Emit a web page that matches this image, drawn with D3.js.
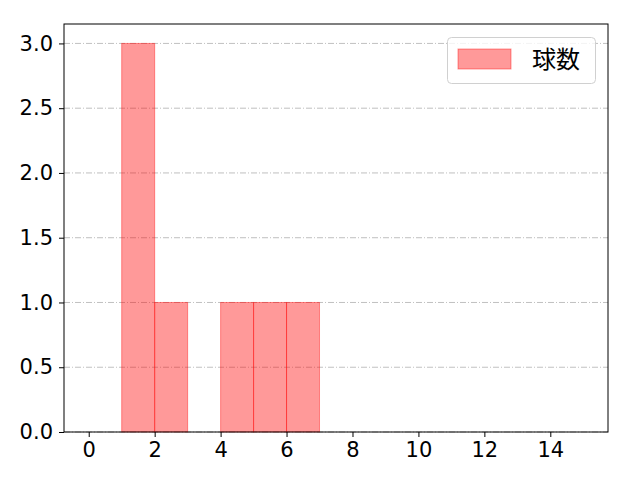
<!DOCTYPE html>
<html>
<head>
<meta charset="utf-8">
<script src="https://cdn.jsdelivr.net/npm/d3@7"></script>
<style>
  body { margin: 0; background: #fff; }
  text { font-family: "Noto Sans CJK JP", "Noto Sans", sans-serif; }
</style>
</head>
<body>
<svg id="chart" width="640" height="480"></svg>
<script>
// histogram bins (left edges, width 1) and counts
const binStarts = [0, 1, 2, 3, 4, 5, 6, 7, 8, 9, 10, 11, 12, 13, 14];
const counts = [0, 3, 1, 0, 1, 1, 1, 0, 0, 0, 0, 0, 0, 0, 0];
const xTicks = [0, 2, 4, 6, 8, 10, 12, 14];
const yTicks = [0, 0.5, 1.0, 1.5, 2.0, 2.5, 3.0];
const seriesName = "球数";

const plotLeft = 64, plotRight = 608, plotTop = 24, plotBottom = 432;
const svg = d3.select("#chart");

const x = d3.scaleLinear().domain([-0.75, 15.75]).range([plotLeft, plotRight]);
const y = d3.scaleLinear().domain([0, 3.15]).range([plotBottom, plotTop]);

// grid
svg.append("g")
  .selectAll("line")
  .data(yTicks)
  .enter()
  .append("line")
  .attr("x1", plotLeft)
  .attr("x2", plotRight)
  .attr("y1", (d) => y(d))
  .attr("y2", (d) => y(d))
  .attr("stroke", "#b0b0b0")
  .attr("stroke-width", 0.8)
  .attr("stroke-dasharray", "6,2,1,2");

// bars
const bins = binStarts.map((b, i) => ({ x0: b, x1: b + 1, n: counts[i] }));
svg.append("g")
  .selectAll("rect")
  .data(bins.filter((d) => d.n > 0))
  .enter()
  .append("rect")
  .attr("x", (d) => x(d.x0))
  .attr("width", (d) => x(d.x1) - x(d.x0))
  .attr("y", (d) => y(d.n))
  .attr("height", (d) => y(0) - y(d.n))
  .attr("fill", "rgba(255,0,0,0.4)")
  .attr("stroke", "rgba(255,0,0,0.4)")
  .attr("stroke-width", 1);

// axes
const xAxis = svg.append("g")
  .attr("transform", `translate(0,${plotBottom})`)
  .call(d3.axisBottom(x).tickValues(xTicks).tickSize(5).tickPadding(5).tickFormat(d3.format("d")));
const yAxis = svg.append("g")
  .attr("transform", `translate(${plotLeft},0)`)
  .call(d3.axisLeft(y).tickValues(yTicks).tickSize(5).tickPadding(6).tickFormat(d3.format(".1f")));

[xAxis, yAxis].forEach((g) => {
  g.attr("font-size", 21).attr("font-family", '"DejaVu Sans", sans-serif');
  g.select(".domain").remove();
  g.selectAll("line").attr("stroke", "#000").attr("stroke-width", 1);
  g.selectAll("text").attr("fill", "#000").style("font-family", '"DejaVu Sans", sans-serif');
});

// frame
svg.append("rect")
  .attr("x", plotLeft)
  .attr("y", plotTop)
  .attr("width", plotRight - plotLeft)
  .attr("height", plotBottom - plotTop)
  .attr("fill", "none")
  .attr("stroke", "#000")
  .attr("stroke-width", 1);

// legend
const legend = svg.append("g");
legend.append("rect")
  .attr("x", 447.5).attr("y", 37.5)
  .attr("width", 148).attr("height", 46)
  .attr("rx", 4)
  .attr("fill", "rgba(255,255,255,0.8)")
  .attr("stroke", "#d0d0d0");
legend.append("rect")
  .attr("x", 458).attr("y", 49)
  .attr("width", 53).attr("height", 20)
  .attr("fill", "rgba(255,0,0,0.4)")
  .attr("stroke", "rgba(255,0,0,0.4)");
legend.append("text")
  .attr("x", 532).attr("y", 68)
  .attr("font-size", 24)
  .text(seriesName);
</script>
</body>
</html>
